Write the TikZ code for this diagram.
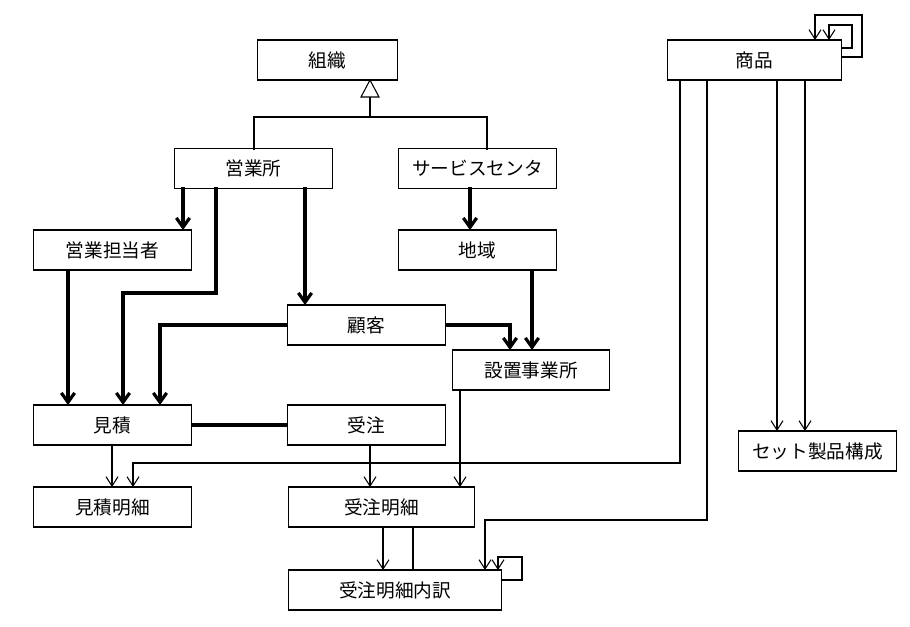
\documentclass[tikz,border=0pt]{standalone}
\usepackage{fontspec}
\newfontfamily\cjk{Noto Sans CJK JP}
\usetikzlibrary{arrows.meta}
\tikzset{
  ent/.style={draw, thick, minimum height=30pt, font=\cjk\fontsize{14}{16}\selectfont, inner sep=0pt},
  thickrel/.style={line width=2.4pt, -{Straight Barb[length=7pt,width=10pt]}},
  thinrel/.style={thick, -{Straight Barb[length=7pt,width=9pt]}},
}
\begin{document}
\begin{tikzpicture}[x=0.75pt, y=-0.75pt]
  \useasboundingbox (0,0) rectangle (910,627);

  % entities
  \node[ent, minimum width=105pt] (soshiki) at (327.5,60)  {組織};
  \node[ent, minimum width=131pt] (shohin)  at (754.5,60)  {商品};
  \node[ent, minimum width=118pt] (eigyosho) at (253.5,168.5) {営業所};
  \node[ent, minimum width=119pt] (service) at (477.5,168.5) {サービスセンタ};
  \node[ent, minimum width=119pt] (tanto)   at (112.5,250) {営業担当者};
  \node[ent, minimum width=119pt] (chiiki)  at (477.5,250) {地域};
  \node[ent, minimum width=118pt] (kokyaku) at (366.5,325) {顧客};
  \node[ent, minimum width=118pt] (setchi)  at (531,370)   {設置事業所};
  \node[ent, minimum width=119pt] (mitsumori) at (112.5,425) {見積};
  \node[ent, minimum width=118pt] (juchu)   at (366.5,425) {受注};
  \node[ent, minimum width=119pt] (set)     at (817.5,451) {セット製品構成};
  \node[ent, minimum width=119pt] (mmeisai) at (112.5,507) {見積明細};
  \node[ent, minimum width=140pt] (jmeisai) at (381.5,507) {受注明細};
  \node[ent, minimum width=160pt] (uchiwake) at (395,590) {受注明細内訳};

  % subtype triangle
  \coordinate (tri) at (370,97);
  \draw[thick] (370,80) -- (361,97) -- (379,97) -- cycle;
  \draw[thick] (tri) -- (370,117) -- (254,117) -- (254,150);
  \draw[thick] (370,117) -- (487,117) -- (487,150);

  % thick relations
  \draw[thickrel] (183,187) -- (183,230);
  \draw[thickrel] (216,187) -- (216,293) -- (123,293) -- (123,405);
  \draw[thickrel] (305,187) -- (305,305);
  \draw[thickrel] (470,187) -- (470,230);
  \draw[thickrel] (532,270) -- (532,350);
  \draw[thickrel] (68,270) -- (68,405);
  \draw[thickrel] (kokyaku.west) -- (160,325) -- (160,405);
  \draw[thickrel] (kokyaku.east) -- (510,325) -- (510,350);
  \draw[line width=2.4pt] (mitsumori) -- (juchu);

  % thin relations
  \draw[thinrel] (112,445) -- (112,487);
  \draw[thinrel] (370,445) -- (370,487);
  \draw[thinrel] (460,390) -- (460,487);
  \draw[thinrel] (680,80) -- (680,463) -- (133,463) -- (133,487);
  \draw[thinrel] (707,80) -- (707,520) -- (485,520) -- (485,570);
  \draw[thinrel] (777,80) -- (777,431);
  \draw[thinrel] (805,80) -- (805,431);
  \draw[thinrel] (383,527) -- (383,570);
  \draw[thick] (413,527) -- (413,570);

  % self loops
  \draw[thinrel] (842,57) -- (862,57) -- (862,15) -- (815,15) -- (815,40);
  \draw[thinrel] (842,48) -- (852,48) -- (852,25) -- (829,25) -- (829,40);
  \draw[thinrel] (502,580) -- (522,580) -- (522,557) -- (498,557) -- (498,570);
\end{tikzpicture}
\end{document}
